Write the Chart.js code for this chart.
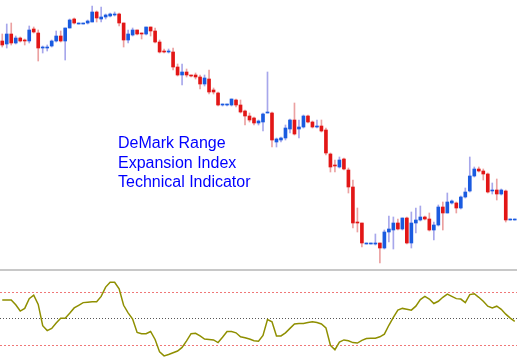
<!DOCTYPE html>
<html><head><meta charset="utf-8">
<script src="https://cdn.jsdelivr.net/npm/chart.js@4.4.0/dist/chart.umd.min.js"></script>
<style>
html,body{margin:0;padding:0;background:#fff;}
#wrap{position:relative;width:517px;height:359px;overflow:hidden;background:#fff;}
#top{position:absolute;left:0;top:0;width:517px;height:268px;}
#sep{position:absolute;left:0;top:269px;width:517px;height:2px;background:#c8c8c8;}
#bot{position:absolute;left:0;top:272px;width:517px;height:87px;}
#label{position:absolute;left:118px;top:133px;font-family:"Liberation Sans",Arial,sans-serif;font-size:16px;line-height:19.5px;color:#0000ff;white-space:nowrap;}
</style></head>
<body>
<div id="wrap">
  <div id="top"><canvas id="c1"></canvas></div>
  <div id="sep"></div>
  <div id="bot"><canvas id="c2"></canvas></div>
  <div id="label">DeMark Range<br>Expansion Index<br>Technical Indicator</div>
</div>
<script>
const opens  = [259,256,266,257,262,260,259,271,267,252,252,254,259,264,259,272,281,276,276,277,278,288,281,283,284,285,286,277,260,265,270,267,266,273,269,258,249,248,248,233,225,228,225,225,223,216,221,210,207,195,195,195,200,195,189,184,182,177,178,187,187,158,160,162,171,180,171,173,184,178,173,174,170,146,135,133,141,130,113,78,77,56,56,56,57,52,68,70,77,71,82,57,77,80,83,81,70,75,93,87,97,97,92,103,109,124,131,129,126,109,110,106,109,80,80];
const highs  = [266,276,277,264,263,261,274,273,270,254,255,260,269,269,272,281,282,277,277,280,294,289,293,286,287,288,287,277,270,272,270,267,273,273,272,260,251,251,252,236,236,231,225,227,225,225,230,212,208,196,196,201,201,200,190,187,183,180,187,228,188,162,163,175,181,197,180,185,185,179,180,180,172,147,140,143,142,132,120,92,77,57,57,66,57,70,84,83,81,82,83,88,92,94,84,87,78,95,98,107,100,98,104,112,143,133,133,131,127,117,121,111,110,81,81];
const lows   = [253,252,255,256,258,255,257,267,239,247,249,253,258,258,240,272,276,276,276,276,278,278,278,281,283,284,274,253,257,264,265,261,265,264,257,247,247,247,230,224,215,223,223,221,211,214,206,206,194,194,194,194,193,187,175,178,175,175,169,187,153,153,158,160,167,165,162,172,177,172,172,168,145,128,128,132,130,107,72,68,53,56,56,55,37,51,58,51,70,70,56,52,67,79,80,69,60,74,70,87,96,87,91,102,108,123,128,120,107,106,100,105,78,80,80];
const closes = [255,266,257,262,259,259,270,268,252,253,253,259,264,259,272,280,277,277,277,279,288,282,283,285,286,286,277,260,266,270,266,266,273,269,258,248,248,249,233,225,228,225,224,223,216,222,208,208,195,196,196,201,195,188,184,180,177,179,186,188,160,161,162,172,180,166,173,184,178,173,174,169,147,133,134,140,131,113,77,77,57,57,57,57,52,68,71,77,71,82,57,77,80,83,81,70,75,93,87,98,99,92,103,108,124,131,129,126,108,110,106,110,80,81,81];
const rei    = [41,41,41,30,16,22,44,52,31,-17,-28,-23,-11,0,0,11,23,29,35,36,37,37,49,70,81,81,66,29,12,-2,-32,-35,-35,-30,-48,-76,-85,-82,-78,-74,-66,-51,-35,-34,-40,-47,-48,-49,-55,-43,-30,-30,-33,-42,-44,-47,-51,-52,-39,-3,-8,-40,-40,-33,-23,-13,-12,-12,-10,-8,-10,-13,-22,-61,-71,-54,-49,-51,-55,-56,-50,-46,-45,-45,-42,-36,-16,2,18,22,20,18,27,42,49,43,33,38,47,54,49,44,43,35,53,55,47,38,27,23,27,20,9,0,-7];
const levels = [60, 0, -60];
const labels = opens.map((_, i) => String(i + 1));

const UP = '#1a5be0', DOWN = '#e21616', UPW = 'rgba(120,120,225,0.65)', DOWNW = 'rgba(225,110,110,0.65)';
const isUp = i => closes[i] >= opens[i];

new Chart(document.getElementById('c1'), {
  type: 'bar',
  data: {
    labels,
    datasets: [
      { label: 'wick', data: lows.map((l, i) => [l, highs[i]]), grouped: false, barThickness: 1,
        backgroundColor: labels.map((_, i) => isUp(i) ? UPW : DOWNW), order: 2 },
      { label: 'body', data: opens.map((o, i) => [o, closes[i]]), grouped: false, barThickness: 3,
        backgroundColor: labels.map((_, i) => isUp(i) ? UP : DOWN), order: 1 }
    ]
  },
  options: {
    responsive: true, maintainAspectRatio: false, animation: false,
    layout: { padding: 0 },
    plugins: { legend: { display: false }, tooltip: { enabled: false } },
    scales: {
      x: { display: false, offset: true },
      y: { display: false, min: 32, max: 300 }
    }
  }
});

const levelPlugin = {
  id: 'levels',
  beforeDatasetsDraw(chart) {
    const { ctx, chartArea: a, scales: { y } } = chart;
    ctx.save();
    levels.forEach(lv => {
      const py = Math.round(y.getPixelForValue(lv)) + 0.5;
      ctx.strokeStyle = lv === 0 ? '#555' : '#f07878';
      ctx.setLineDash(lv === 0 ? [1, 2] : [2, 2]);
      ctx.lineWidth = 1;
      ctx.beginPath(); ctx.moveTo(a.left, py); ctx.lineTo(a.right, py); ctx.stroke();
    });
    ctx.restore();
  }
};

new Chart(document.getElementById('c2'), {
  type: 'line',
  data: {
    labels,
    datasets: [{ label: 'REI', data: rei, borderColor: '#8f8f00', borderWidth: 1.5, pointRadius: 0, tension: 0, fill: false }]
  },
  options: {
    responsive: true, maintainAspectRatio: false, animation: false,
    layout: { padding: 0 },
    plugins: { legend: { display: false }, tooltip: { enabled: false } },
    scales: {
      x: { display: false, offset: true },
      y: { display: false, min: -92, max: 104 }
    }
  },
  plugins: [levelPlugin]
});
</script>
</body></html>
